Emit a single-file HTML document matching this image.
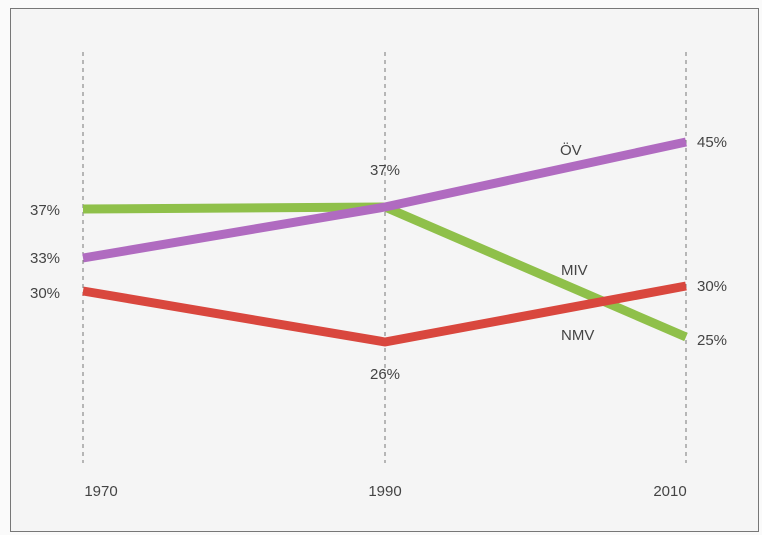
<!DOCTYPE html>
<html><head><style>
body{margin:0;background:#fff;}
svg{display:block}
text{font-family:"Liberation Sans",sans-serif;font-size:15px;fill:#444}
</style></head><body>
<svg width="762" height="535" viewBox="0 0 762 535">
<rect x="0" y="0" width="762" height="535" fill="#fafafa"/>
<rect x="10.5" y="8.5" width="748" height="523" fill="#f5f5f5" stroke="#777" stroke-width="1"/>
<g stroke="#777" stroke-width="1" stroke-dasharray="4,4">
<line x1="83" y1="52" x2="83" y2="463"/>
<line x1="385" y1="52" x2="385" y2="463"/>
<line x1="686" y1="52" x2="686" y2="463"/>
</g>
<g fill="none" stroke-width="9" stroke-linejoin="round">
<polyline points="83,209 385,207 686,337" stroke="#8fc04a"/>
<polyline points="83,291 385,342 686,286" stroke="#d9473e"/>
<polyline points="83,258 385,207 686,142" stroke="#b06bc0"/>
</g>
<text x="30" y="215">37%</text>
<text x="30" y="263">33%</text>
<text x="30" y="298">30%</text>
<text x="385" y="175" text-anchor="middle">37%</text>
<text x="385" y="379" text-anchor="middle">26%</text>
<text x="697" y="147">45%</text>
<text x="697" y="291">30%</text>
<text x="697" y="345">25%</text>
<text x="560" y="155" font-size="17">ÖV</text>
<text x="561" y="275" font-size="17">MIV</text>
<text x="561" y="340" font-size="17">NMV</text>
<text x="101" y="496" text-anchor="middle" font-size="14">1970</text>
<text x="385" y="496" text-anchor="middle" font-size="14">1990</text>
<text x="670" y="496" text-anchor="middle" font-size="14">2010</text>
</svg>
</body></html>
